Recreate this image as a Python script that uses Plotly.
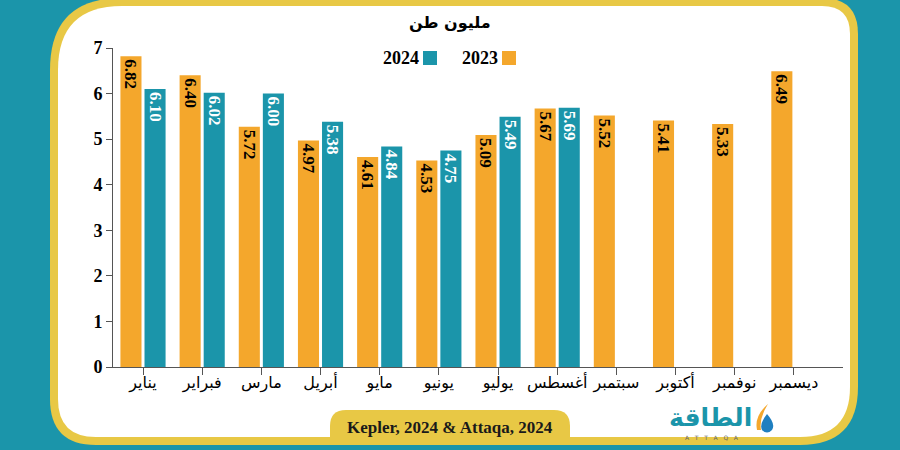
import plotly.graph_objects as go

# ---------------- data ----------------
months = ["يناير", "فبراير", "مارس", "أبريل", "مايو", "يونيو",
          "يوليو", "أغسطس", "سبتمبر", "أكتوبر", "نوفمبر", "ديسمبر"]
values_2023 = [6.82, 6.40, 5.27, 4.97, 4.61, 4.53, 5.09, 5.67, 5.52, 5.41, 5.33, 6.49]
labels_2023 = ["6.82", "6.40", "5.72", "4.97", "4.61", "4.53", "5.09", "5.67", "5.52", "5.41", "5.33", "6.49"]
values_2024 = [6.10, 6.02, 6.00, 5.38, 4.84, 4.75, 5.49, 5.69, None, None, None, None]
labels_2024 = ["6.10", "6.02", "6.00", "5.38", "4.84", "4.75", "5.49", "5.69", "", "", "", ""]
y_ticks = [0, 1, 2, 3, 4, 5, 6, 7]

ORANGE = "#F4A72C"
TEAL = "#1B95AA"
YELLOW = "#E8C845"
SERIF = "Liberation Serif"
ARABIC = "DejaVu Sans"

# plot area in pixels (left, right, top, bottom)
PL, PR, PT, PB = 113, 843, 48, 367


def px_x(x):
    return (x - PL) / (PR - PL)


def px_y(y):
    return (PB - y) / (PB - PT)


def rounded_path(x0, y0, x1, y1, rtl, rtr, rbr, rbl):
    pts = [
        ("M", x0 + rtl, y0),
        ("L", x1 - rtr, y0), ("Q", x1, y0, x1, y0 + rtr),
        ("L", x1, y1 - rbr), ("Q", x1, y1, x1 - rbr, y1),
        ("L", x0 + rbl, y1), ("Q", x0, y1, x0, y1 - rbl),
        ("L", x0, y0 + rtl), ("Q", x0, y0, x0 + rtl, y0),
    ]
    return pixel_path(pts)


def pixel_path(pts):
    out = []
    for p in pts:
        cmd = p[0]
        coords = p[1:]
        s = []
        for i in range(0, len(coords), 2):
            s.append(f"{px_x(coords[i]):.5f},{px_y(coords[i + 1]):.5f}")
        out.append(cmd + " ".join(s))
    return " ".join(out) + " Z"


def note(text, x, y, size, color="black", family=SERIF, xanchor="center", bold=False):
    return dict(text=text, x=px_x(x), y=px_y(y), xref="paper", yref="paper",
                xanchor=xanchor, yanchor="middle", showarrow=False,
                font=dict(family=family, size=size, color=color,
                          weight="bold" if bold else "normal"))


fig = go.Figure()

fig.add_trace(go.Bar(
    x=months, y=values_2023, name="2023",
    marker=dict(color=ORANGE, line=dict(width=0)),
    text=labels_2023, textposition="inside", insidetextanchor="end",
    textangle=90, constraintext="none",
    textfont=dict(family=SERIF, size=17, color="black", weight="bold"),
))
fig.add_trace(go.Bar(
    x=months, y=values_2024, name="2024",
    marker=dict(color=TEAL, line=dict(width=0)),
    text=labels_2024, textposition="inside",
    insidetextanchor="end", textangle=90, constraintext="none",
    textfont=dict(family=SERIF, size=17, color="white", weight="bold"),
))

shapes = [
    # yellow frame
    dict(type="path", xref="paper", yref="paper", layer="below",
         path=rounded_path(50, -2, 858, 445, 72, 36, 58, 46),
         fillcolor=YELLOW, line=dict(width=0)),
    # white panel
    dict(type="path", xref="paper", yref="paper", layer="below",
         path=rounded_path(58, 6, 850, 437, 64, 28, 50, 38),
         fillcolor="white", line=dict(width=0)),
    # source tab
    dict(type="path", xref="paper", yref="paper", layer="below",
         path=rounded_path(330, 410, 570, 445, 16, 16, 0, 0),
         fillcolor=YELLOW, line=dict(width=0)),
    # legend squares
    dict(type="rect", xref="paper", yref="paper",
         x0=px_x(423), x1=px_x(437), y0=px_y(51), y1=px_y(65),
         fillcolor=TEAL, line=dict(width=0)),
    dict(type="rect", xref="paper", yref="paper",
         x0=px_x(502), x1=px_x(516), y0=px_y(51), y1=px_y(65),
         fillcolor=ORANGE, line=dict(width=0)),
    # logo icon: drop and swoosh
    dict(type="path", xref="paper", yref="paper",
         path=pixel_path([("M", 767, 414), ("Q", 776, 424, 772, 430),
                          ("Q", 767, 435, 762, 430), ("Q", 759, 424, 767, 414)]),
         fillcolor="#1F7FC0", line=dict(width=0)),
    dict(type="path", xref="paper", yref="paper",
         path=pixel_path([("M", 757, 430), ("Q", 754, 416, 768, 404),
                          ("Q", 759, 418, 761, 430)]),
         fillcolor=ORANGE, line=dict(width=0)),
]

annotations = [
    note("مليون طن", 450, 22, 16, family=ARABIC, bold=True),
    note("2024", 421, 58, 18, xanchor="right", bold=True),
    note("2023", 500, 58, 18, xanchor="right", bold=True),
    note("Kepler, 2024 & Attaqa, 2024", 450, 427, 17, color="#1a1a1a", bold=True),
    note("الطاقة", 710, 417, 25, color=TEAL, family=ARABIC, bold=True),
    note("A   T   T   A   Q   A", 712, 437, 6, color="#666", family="DejaVu Sans"),
]

fig.update_layout(
    width=900, height=450,
    margin=dict(l=PL, r=900 - PR, t=PT, b=450 - PB),
    paper_bgcolor=TEAL,
    plot_bgcolor="rgba(0,0,0,0)",
    barmode="group", bargap=0.186, bargroupgap=0.125,
    showlegend=False,
    shapes=shapes,
    annotations=annotations,
)
fig.update_xaxes(
    type="category", range=[-0.507, 11.83],
    showline=True, linecolor="#555", linewidth=1,
    ticks="outside", ticklen=7, tickcolor="#555", ticklabelstandoff=-6,
    tickfont=dict(family=ARABIC, size=16, color="black"),
    showgrid=False, zeroline=False, fixedrange=True,
)
fig.update_yaxes(
    range=[0, 7], tickvals=y_ticks,
    showline=True, linecolor="#555", linewidth=1,
    ticks="outside", ticklen=6, tickcolor="#555",
    tickfont=dict(family=SERIF, size=18, color="black", weight="bold"),
    showgrid=False, zeroline=False,
)

fig.write_html("out.html", config={"displayModeBar": False},
               post_script="document.body.style.margin='0';")
